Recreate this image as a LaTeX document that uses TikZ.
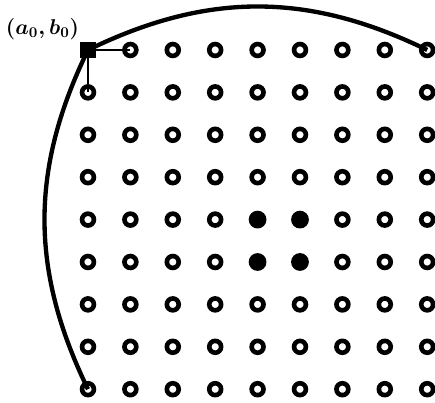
\documentclass[tikz,border=0pt]{standalone}
\usetikzlibrary{positioning}
\begin{document}
\begin{tikzpicture}[x=1cm,y=-1cm, ring/.style={circle,draw,line width=3.1pt,minimum size=0.28cm,inner sep=0pt}, dot/.style={circle,fill,minimum size=0.42cm,inner sep=0pt}, corner/.style={rectangle,fill,minimum size=0.39cm,inner sep=0pt}, cell0/.style={corner}, cell1/.style={ring}, cell2/.style={dot}, link/.style={line width=1.9pt}, sweep/.style={line width=2.9pt}, tag/.style={inner sep=0pt,font=\Large\boldmath}]
\useasboundingbox (-2.075,-1.179) rectangle (8.184,8.325);
% grid of sample points, corner square at (0,0)
\foreach \i in {0,...,8}
  \foreach \j in {0,...,8} {
    \pgfmathtruncatemacro\kind{(\i==0 && \j==0) ? 0 : ((\i>3 && \i<6 && \j>3 && \j<6) ? 2 : 1)}
    \node[cell\kind] (p-\i-\j) at (\i,\j) {};
  }
\node[tag,anchor=south east] (lbl) at ([xshift=0pt,yshift=1pt]p-0-0.north west) {$(a_0,b_0)$};
\draw[link] (p-0-0.center) -- (p-1-0.center);
\draw[link] (p-0-0.center) -- (p-0-1.center);
\draw[sweep] (p-0-0.center) to[bend left=26] (p-8-0.center);
\draw[sweep] (p-0-0.center) to[bend right=26] (p-0-8.center);
\end{tikzpicture}
\end{document}
